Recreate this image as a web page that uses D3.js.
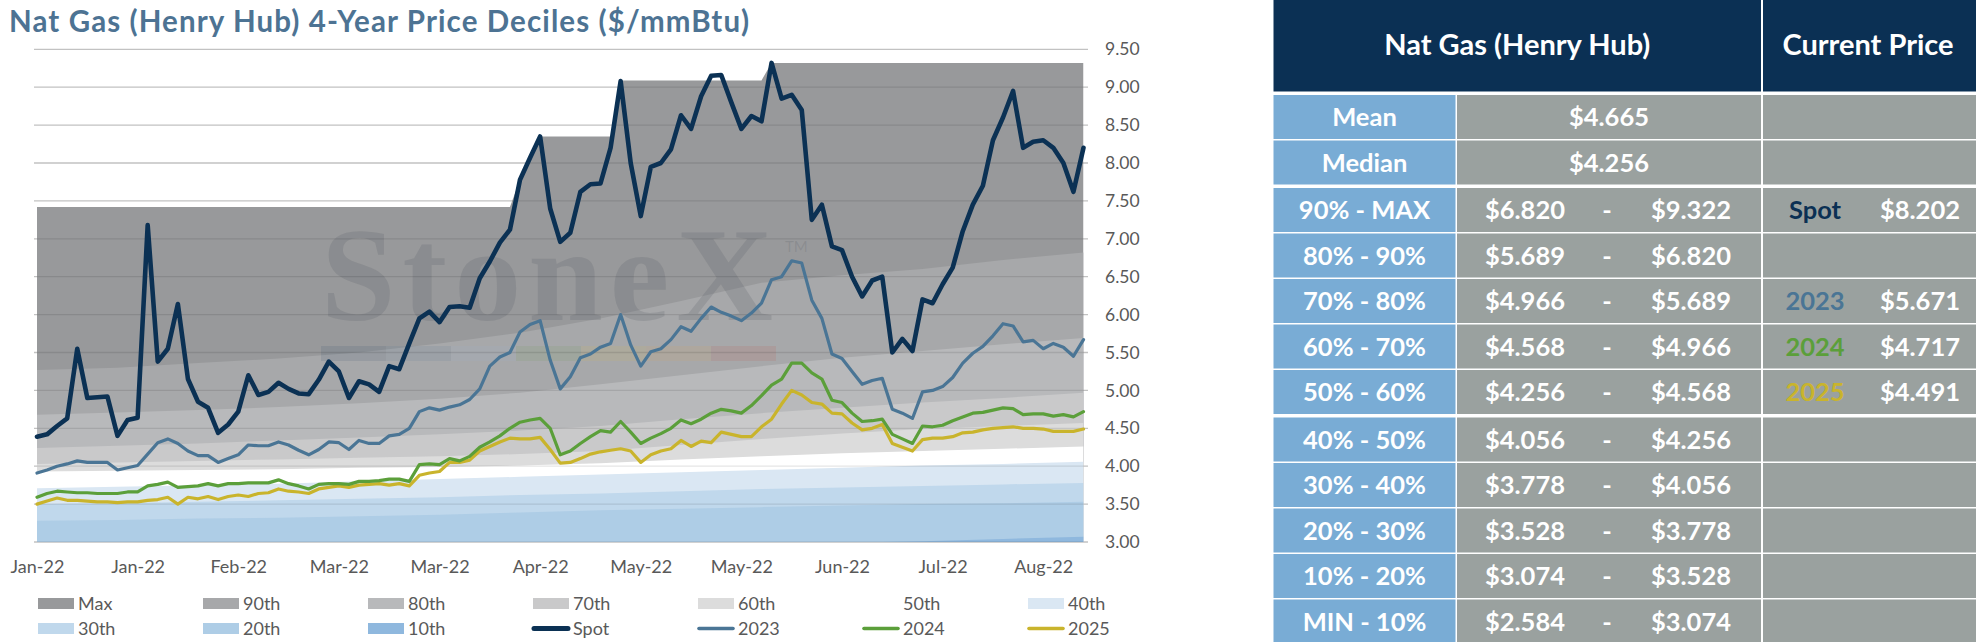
<!DOCTYPE html>
<html>
<head>
<meta charset="utf-8">
<script src="https://cdn.jsdelivr.net/npm/d3@7"></script>
<style>
  body { margin: 0; background: #fff; }
  svg { display: block; font-family: Lato, "Noto Sans", sans-serif; }
</style>
</head>
<body>
<svg id="chart" width="1976" height="642"></svg>
<script>
// x axis labels, one every 10 points
const xLabels = ["Jan-22", "Jan-22", "Feb-22", "Mar-22", "Mar-22", "Apr-22", "May-22", "May-22", "Jun-22", "Jul-22", "Aug-22"];
const xTickIdx = [0, 10, 20, 30, 40, 50, 60, 70, 80, 90, 100];
const yTicks = [3.0, 3.5, 4.0, 4.5, 5.0, 5.5, 6.0, 6.5, 7.0, 7.5, 8.0, 8.5, 9.0, 9.5];

// price lines (same point index 0..104)
const spot = [4.39, 4.42, 4.53, 4.63, 5.55, 4.90, 4.91, 4.92, 4.40, 4.61,
  4.64, 7.18, 5.38, 5.55, 6.14, 5.15, 4.85, 4.77, 4.44, 4.55,
  4.72, 5.20, 4.94, 4.98, 5.10, 5.02, 4.96, 4.95, 5.14, 5.38,
  5.25, 4.90, 5.12, 5.08, 4.98, 5.32, 5.28, 5.62, 5.95, 6.04,
  5.90, 6.10, 6.11, 6.09, 6.48, 6.70, 6.95, 7.12, 7.78, 8.07,
  8.35, 7.40, 6.96, 7.08, 7.62, 7.72, 7.73, 8.20, 9.08, 8.00,
  7.30, 7.95, 8.00, 8.18, 8.63, 8.45, 8.88, 9.15, 9.16, 8.80,
  8.45, 8.62, 8.55, 9.32, 8.85, 8.90, 8.70, 7.25, 7.45, 6.90,
  6.85, 6.50, 6.24, 6.45, 6.50, 5.50, 5.68, 5.52, 6.20, 6.15,
  6.40, 6.62, 7.10, 7.45, 7.70, 8.30, 8.60, 8.95, 8.20, 8.28,
  8.30, 8.20, 8.00, 7.62, 8.20];
const y2023 = [3.91, 3.95, 4.00, 4.03, 4.07, 4.05, 4.05, 4.05, 3.95, 3.98,
  4.01, 4.16, 4.31, 4.36, 4.30, 4.20, 4.14, 4.14, 4.05, 4.10,
  4.15, 4.28, 4.27, 4.27, 4.32, 4.28, 4.21, 4.15, 4.22, 4.32,
  4.31, 4.22, 4.34, 4.30, 4.30, 4.40, 4.42, 4.50, 4.72, 4.77,
  4.74, 4.78, 4.81, 4.88, 5.02, 5.32, 5.44, 5.50, 5.77, 5.87,
  5.92, 5.40, 5.02, 5.18, 5.43, 5.48, 5.57, 5.62, 6.00, 5.60,
  5.32, 5.51, 5.55, 5.67, 5.84, 5.78, 5.95, 6.10, 6.03, 5.98,
  5.92, 6.02, 6.15, 6.46, 6.50, 6.71, 6.68, 6.19, 5.95, 5.48,
  5.42, 5.25, 5.08, 5.13, 5.16, 4.75, 4.70, 4.63, 4.98, 5.00,
  5.05, 5.17, 5.36, 5.49, 5.58, 5.72, 5.88, 5.85, 5.64, 5.66,
  5.55, 5.62, 5.57, 5.45, 5.67];
const y2024 = [3.59, 3.64, 3.67, 3.66, 3.65, 3.65, 3.64, 3.64, 3.64, 3.66,
  3.66, 3.74, 3.76, 3.79, 3.72, 3.73, 3.74, 3.77, 3.74, 3.77,
  3.77, 3.78, 3.78, 3.78, 3.82, 3.77, 3.74, 3.70, 3.76, 3.77,
  3.77, 3.76, 3.80, 3.80, 3.81, 3.83, 3.83, 3.80, 4.02, 4.03,
  4.02, 4.10, 4.07, 4.13, 4.25, 4.32, 4.40, 4.50, 4.58, 4.61,
  4.63, 4.50, 4.15, 4.20, 4.30, 4.39, 4.47, 4.45, 4.59, 4.45,
  4.30, 4.37, 4.43, 4.50, 4.61, 4.56, 4.62, 4.70, 4.75, 4.73,
  4.70, 4.80, 4.93, 5.07, 5.15, 5.36, 5.36, 5.23, 5.15, 4.87,
  4.84, 4.70, 4.59, 4.60, 4.62, 4.42, 4.36, 4.30, 4.53, 4.52,
  4.54, 4.60, 4.65, 4.70, 4.71, 4.74, 4.77, 4.76, 4.68, 4.69,
  4.69, 4.66, 4.68, 4.65, 4.72];
const y2025 = [3.50, 3.54, 3.58, 3.55, 3.55, 3.54, 3.53, 3.53, 3.52, 3.53,
  3.53, 3.55, 3.56, 3.59, 3.50, 3.59, 3.57, 3.60, 3.56, 3.60,
  3.62, 3.60, 3.64, 3.65, 3.70, 3.67, 3.66, 3.64, 3.70, 3.72,
  3.74, 3.72, 3.75, 3.76, 3.77, 3.75, 3.77, 3.74, 3.88, 3.91,
  3.93, 4.05, 4.05, 4.08, 4.20, 4.26, 4.32, 4.37, 4.36, 4.36,
  4.38, 4.22, 4.04, 4.05, 4.10, 4.16, 4.19, 4.21, 4.23, 4.20,
  4.05, 4.15, 4.20, 4.23, 4.34, 4.26, 4.33, 4.31, 4.45, 4.42,
  4.39, 4.39, 4.52, 4.62, 4.82, 5.00, 4.94, 4.84, 4.82, 4.70,
  4.69, 4.57, 4.48, 4.50, 4.55, 4.30, 4.25, 4.20, 4.35, 4.37,
  4.37, 4.39, 4.44, 4.45, 4.48, 4.50, 4.51, 4.52, 4.50, 4.50,
  4.49, 4.46, 4.46, 4.46, 4.49];

// running max (own point index)
const maxIdx = [0, 47, 48, 49, 50, 57, 58, 72, 73, 104];
const maxVal = [7.42, 7.42, 7.78, 8.07, 8.35, 8.35, 9.09, 9.09, 9.32, 9.32];

// decile levels, read at these point indexes
const bandIdx = [0, 8, 16, 24, 32, 40, 48, 56, 64, 72, 80, 88, 96, 104];
const p90 = [5.27, 5.30, 5.36, 5.42, 5.50, 5.62, 5.76, 5.95, 6.18, 6.42, 6.52, 6.60, 6.72, 6.82];
const p80 = [4.68, 4.71, 4.74, 4.78, 4.83, 4.89, 4.97, 5.08, 5.20, 5.32, 5.43, 5.52, 5.61, 5.69];
const p70 = [4.24, 4.27, 4.30, 4.34, 4.38, 4.42, 4.47, 4.53, 4.62, 4.70, 4.77, 4.84, 4.90, 4.97];
const p60 = [4.03, 4.05, 4.07, 4.09, 4.11, 4.13, 4.16, 4.20, 4.28, 4.36, 4.43, 4.49, 4.53, 4.57];
const p50 = [3.93, 3.94, 3.95, 3.96, 3.98, 3.99, 4.01, 4.04, 4.09, 4.13, 4.17, 4.20, 4.23, 4.26];
const p40 = [3.71, 3.73, 3.75, 3.77, 3.80, 3.83, 3.86, 3.89, 3.92, 3.95, 3.98, 4.01, 4.03, 4.06];
const p30 = [3.50, 3.51, 3.53, 3.55, 3.57, 3.59, 3.62, 3.64, 3.67, 3.70, 3.72, 3.74, 3.76, 3.78];
const p20 = [3.28, 3.29, 3.31, 3.32, 3.34, 3.36, 3.39, 3.42, 3.44, 3.46, 3.48, 3.50, 3.51, 3.53];
const p10 = [2.78, 2.80, 2.82, 2.84, 2.86, 2.88, 2.90, 2.92, 2.95, 2.97, 2.99, 3.01, 3.04, 3.07];

// table
const rowLabels = ["Mean", "Median", "90% - MAX", "80% - 90%", "70% - 80%", "60% - 70%", "50% - 60%",
  "40% - 50%", "30% - 40%", "20% - 30%", "10% - 20%", "MIN - 10%"];
const rowLow = ["$4.665", "$4.256", "$6.820", "$5.689", "$4.966", "$4.568", "$4.256",
  "$4.056", "$3.778", "$3.528", "$3.074", "$2.584"];
const rowHigh = [null, null, "$9.322", "$6.820", "$5.689", "$4.966", "$4.568",
  "$4.256", "$4.056", "$3.778", "$3.528", "$3.074"];
const curNames = [null, null, "Spot", null, "2023", "2024", "2025", null, null, null, null, null];
const curValues = [null, null, "$8.202", null, "$5.671", "$4.717", "$4.491", null, null, null, null, null];

const svg = d3.select("#chart");

const x = d3.scaleLinear().domain([0, 104]).range([37, 1083.5]);
const y = d3.scaleLinear().domain([3, 9.5]).range([542, 49.3]);

// title
svg.append("text")
  .attr("x", 9).attr("y", 32)
  .attr("font-size", 29.5).attr("font-weight", 700)
  .attr("letter-spacing", 1.1)
  .attr("fill", "#4d7393")
  .text("Nat Gas (Henry Hub) 4-Year Price Deciles ($/mmBtu)");

svg.append("clipPath").attr("id", "plotclip")
  .append("rect").attr("x", x(0)).attr("y", 0).attr("width", x(104) - x(0)).attr("height", y(3));

// light gridlines behind the areas
const plot = svg.append("g");
plot.selectAll("line.bg").data(yTicks).enter().append("line")
  .attr("x1", 34).attr("x2", 1088)
  .attr("y1", d => y(d)).attr("y2", d => y(d))
  .attr("stroke", "#d9d9d9").attr("stroke-width", 1.3);

const bands = [
  { name: "Max", idx: maxIdx, vals: maxVal, color: "#98999b" },
  { name: "90th", idx: bandIdx, vals: p90, color: "#a7a8aa" },
  { name: "80th", idx: bandIdx, vals: p80, color: "#b8b9bb" },
  { name: "70th", idx: bandIdx, vals: p70, color: "#c9c9ca" },
  { name: "60th", idx: bandIdx, vals: p60, color: "#dcdcdc" },
  { name: "50th", idx: bandIdx, vals: p50, color: "#ffffff" },
  { name: "40th", idx: bandIdx, vals: p40, color: "#dae7f3" },
  { name: "30th", idx: bandIdx, vals: p30, color: "#c0d8ec" },
  { name: "20th", idx: bandIdx, vals: p20, color: "#aecde6" },
  { name: "10th", idx: bandIdx, vals: p10, color: "#8fb8de" }
];

const area = d3.area()
  .x(d => x(d[0]))
  .y0(y(3))
  .y1(d => y(d[1]));

const areaG = plot.append("g").attr("clip-path", "url(#plotclip)");
bands.forEach(b => {
  areaG.append("path")
    .datum(b.idx.map((v, i) => [v, b.vals[i]]))
    .attr("d", area)
    .attr("fill", b.color);
});

// watermark
const wm = plot.append("g");
wm.append("text")
  .attr("x", 321).attr("y", 320)
  .attr("font-family", "'Liberation Serif', 'DejaVu Serif', serif")
  .attr("font-size", 134).attr("font-weight", 700)
  .attr("letter-spacing", 7)
  .attr("fill", "#5a6068").attr("fill-opacity", 0.22)
  .text("StoneX");
wm.append("text")
  .attr("x", 785).attr("y", 252)
  .attr("font-size", 15)
  .attr("fill", "#5a6068").attr("fill-opacity", 0.22)
  .text("TM");
const wmColors = ["#0b2f55", "#3d6c98", "#8fb8de", "#5a9e3a", "#e6c22e", "#e8a23a", "#c0392b"];
wm.selectAll("rect").data(wmColors).enter().append("rect")
  .attr("x", (d, i) => 321 + i * 65)
  .attr("y", 346).attr("width", 65).attr("height", 15)
  .attr("fill", d => d).attr("fill-opacity", 0.1);

// gridlines on top of the areas
plot.selectAll("line.grid").data(yTicks).enter().append("line")
  .attr("class", "grid")
  .attr("x1", 34).attr("x2", 1088)
  .attr("y1", d => y(d)).attr("y2", d => y(d))
  .attr("stroke", "#000").attr("stroke-opacity", 0.1).attr("stroke-width", 1.3);

// lines
const line = d3.line().x((d, i) => x(i)).y(d => y(d));
const series = [
  { name: "2025", vals: y2025, color: "#c9b42c", w: 3.2 },
  { name: "2024", vals: y2024, color: "#5b9f3a", w: 3.2 },
  { name: "2023", vals: y2023, color: "#4a7595", w: 3.2 },
  { name: "Spot", vals: spot, color: "#0b3154", w: 4.6 }
];
series.forEach(s => {
  plot.append("path")
    .datum(s.vals)
    .attr("d", line)
    .attr("fill", "none")
    .attr("stroke", s.color)
    .attr("stroke-width", s.w)
    .attr("stroke-linejoin", "round")
    .attr("stroke-linecap", "round");
});

// axes
const yAxis = svg.append("g")
  .attr("transform", "translate(1099,0)")
  .call(d3.axisRight(y).tickValues(yTicks).tickFormat(d3.format(".2f")).tickSize(0).tickPadding(6));
yAxis.select(".domain").remove();
yAxis.selectAll("text").attr("font-size", 17.5).attr("fill", "#595959")
  .attr("font-family", "Lato, 'Noto Sans', sans-serif");

const xAxis = svg.append("g")
  .attr("transform", "translate(0,542)")
  .call(d3.axisBottom(x).tickValues(xTickIdx).tickFormat((d, i) => xLabels[i]).tickSize(0).tickPadding(18));
xAxis.select(".domain").remove();
xAxis.selectAll("text").attr("font-size", 18).attr("fill", "#595959")
  .attr("font-family", "Lato, 'Noto Sans', sans-serif");

// legend
const legendItems = [
  { name: "Max", type: "area", color: "#98999b" },
  { name: "90th", type: "area", color: "#a7a8aa" },
  { name: "80th", type: "area", color: "#b8b9bb" },
  { name: "70th", type: "area", color: "#c9c9ca" },
  { name: "60th", type: "area", color: "#dcdcdc" },
  { name: "50th", type: "area", color: "#ffffff" },
  { name: "40th", type: "area", color: "#dae7f3" },
  { name: "30th", type: "area", color: "#c0d8ec" },
  { name: "20th", type: "area", color: "#aecde6" },
  { name: "10th", type: "area", color: "#8fb8de" },
  { name: "Spot", type: "line", color: "#0b3154", w: 5 },
  { name: "2023", type: "line", color: "#4a7595", w: 3.6 },
  { name: "2024", type: "line", color: "#5b9f3a", w: 3.6 },
  { name: "2025", type: "line", color: "#c9b42c", w: 3.6 }
];
const legCol = d3.scaleLinear().domain([0, 1]).range([38, 203]);
const legRow = d3.scaleLinear().domain([0, 1]).range([603.5, 628.5]);
const leg = svg.append("g");
legendItems.forEach((it, i) => {
  const cx = legCol(i % 7), cy = legRow(Math.floor(i / 7));
  if (it.type === "area") {
    leg.append("rect").attr("x", cx).attr("y", cy - 5.5).attr("width", 36).attr("height", 11).attr("fill", it.color);
  } else {
    leg.append("line").attr("x1", cx + 1).attr("x2", cx + 35).attr("y1", cy).attr("y2", cy)
      .attr("stroke", it.color).attr("stroke-width", it.w).attr("stroke-linecap", "round");
  }
  leg.append("text").attr("x", cx + 40).attr("y", cy).attr("dy", "0.36em")
    .attr("font-size", 18).attr("fill", "#595959").text(it.name);
});

// table
const tbl = svg.append("g").attr("font-family", "Lato, 'Noto Sans', sans-serif");
const colA = [1273.5, 1455.5], colB = [1457, 1761], colC = [1763, 1976];
tbl.append("rect").attr("x", colA[0]).attr("y", 0).attr("width", colB[1] - colA[0]).attr("height", 91.5).attr("fill", "#0b3054");
tbl.append("rect").attr("x", colC[0]).attr("y", 0).attr("width", colC[1] - colC[0]).attr("height", 91.5).attr("fill", "#0b3054");
tbl.append("text").attr("x", (colA[0] + colB[1]) / 2).attr("y", 45).attr("dy", "0.35em")
  .attr("text-anchor", "middle").attr("font-size", 29).attr("font-weight", 700).attr("fill", "#fff")
  .text("Nat Gas (Henry Hub)");
tbl.append("text").attr("x", 1868).attr("y", 45).attr("dy", "0.35em")
  .attr("text-anchor", "middle").attr("font-size", 29).attr("font-weight", 700).attr("fill", "#fff")
  .text("Current Price");

const curColors = { "Spot": "#0b3054", "2023": "#4a7595", "2024": "#5b9f3a", "2025": "#c9b42c" };
const rowTop = i => 95 + i * 45.5 + (i >= 2 ? 2 : 0) + (i >= 7 ? 2 : 0);
rowLabels.forEach((lab, i) => {
  const t = rowTop(i), h = 44, cy = t + h / 2;
  tbl.append("rect").attr("x", colA[0]).attr("y", t).attr("width", colA[1] - colA[0]).attr("height", h).attr("fill", "#79acd5");
  tbl.append("rect").attr("x", colB[0]).attr("y", t).attr("width", colB[1] - colB[0]).attr("height", h).attr("fill", "#9aa19f");
  tbl.append("rect").attr("x", colC[0]).attr("y", t).attr("width", colC[1] - colC[0]).attr("height", h).attr("fill", "#9aa19f");
  const txt = (xx, s, col) => tbl.append("text").attr("x", xx).attr("y", cy).attr("dy", "0.36em")
    .attr("text-anchor", "middle").attr("font-size", 25.5).attr("font-weight", 700)
    .attr("fill", col || "#fff").text(s);
  txt(1364.5, lab);
  if (rowHigh[i] === null) {
    txt(1609, rowLow[i]);
  } else {
    txt(1525, rowLow[i]);
    txt(1607, "-");
    txt(1691, rowHigh[i]);
  }
  if (curNames[i]) {
    txt(1815, curNames[i], curColors[curNames[i]]);
    txt(1920, curValues[i]);
  }
});
</script>
</body>
</html>
